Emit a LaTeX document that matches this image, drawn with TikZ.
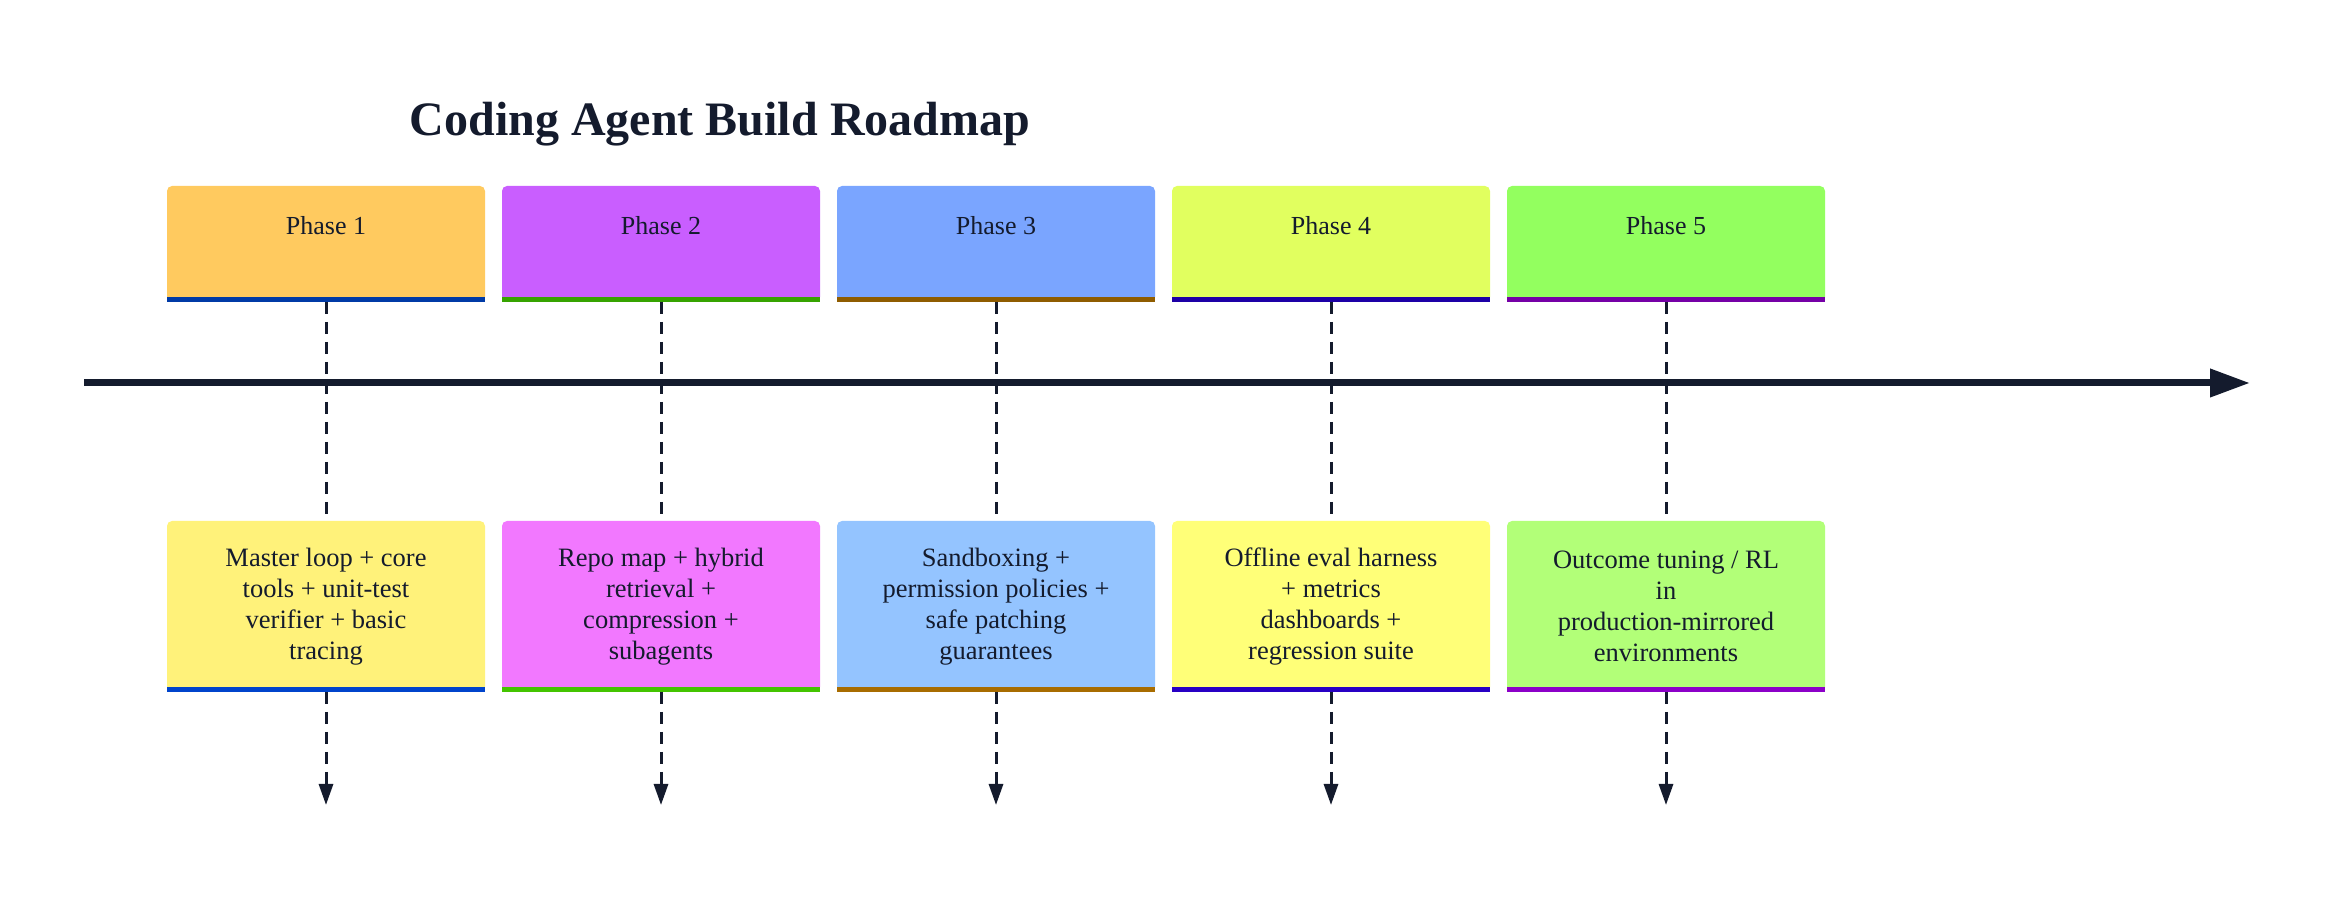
\documentclass[tikz,border=0pt]{standalone}
\usepackage{fontspec}
\setmainfont{Liberation Serif}
\usepackage{tikz}
\usetikzlibrary{arrows.meta, positioning}
\usepackage{xcolor}

\definecolor{ink}{HTML}{141B2D}
\definecolor{hdA}{HTML}{FFCA5F}
\definecolor{hdB}{HTML}{C95EFF}
\definecolor{hdC}{HTML}{7AA5FF}
\definecolor{hdD}{HTML}{E1FF5F}
\definecolor{hdE}{HTML}{93FF5F}
\definecolor{hbA}{HTML}{003AA6}
\definecolor{hbB}{HTML}{36A300}
\definecolor{hbC}{HTML}{8F5C00}
\definecolor{hbD}{HTML}{1D00A6}
\definecolor{hbE}{HTML}{7500A6}
\definecolor{tkA}{HTML}{FFF27A}
\definecolor{tkB}{HTML}{F278FF}
\definecolor{tkC}{HTML}{94C4FF}
\definecolor{tkD}{HTML}{FFFF78}
\definecolor{tkE}{HTML}{B2FF78}
\definecolor{tbA}{HTML}{0044CC}
\definecolor{tbB}{HTML}{44C400}
\definecolor{tbC}{HTML}{A86C00}
\definecolor{tbD}{HTML}{2800C4}
\definecolor{tbE}{HTML}{8C00C8}

\begin{document}
\begin{tikzpicture}[x=0.5pt, y=-0.5pt, >=Stealth, node distance=8.5pt,
          every node/.style={text=ink, align=center, outer sep=0pt},
          phasebox/.style={rounded corners=2.5pt, minimum width=159pt,
                      minimum height=58pt, inner sep=0pt,
                      text height=9pt, text depth=18pt,
                      font=\fontsize{13pt}{14.5pt}\selectfont},
          taskbox/.style={rounded corners=2.5pt, minimum width=159pt,
                      minimum height=85.5pt, inner sep=0pt,
                      font=\fontsize{13.25pt}{15.4pt}\selectfont},
          bar/.style={line width=2.5pt},
          dashline/.style={draw=ink, line width=1.5pt, dash pattern=on 6pt off 4pt},
          dasharrow/.style={dashline, -{Triangle[length=10.5pt, width=7pt]}},
          axis/.style={draw=ink, line width=3.5pt, -{Triangle[length=20pt, width=13.5pt]}}]
        \useasboundingbox (0,0) rectangle (2352,897);
        \node[font=\fontsize{24pt}{28pt}\selectfont\bfseries] (ttl) at (720,124) {Coding Agent Build Roadmap};
        \node[phasebox, fill=hdA]                 (ph1) at (326,244) {Phase 1};
        \node[phasebox, fill=hdB, right=of ph1]   (ph2) {Phase 2};
        \node[phasebox, fill=hdC, right=of ph2]   (ph3) {Phase 3};
        \node[phasebox, fill=hdD, right=of ph3]   (ph4) {Phase 4};
        \node[phasebox, fill=hdE, right=of ph4]   (ph5) {Phase 5};
        \node[taskbox, fill=tkA, below=109.5pt of ph1] (tk1) {Master loop + core\\tools + unit-test\\verifier + basic\\tracing};
        \node[taskbox, fill=tkB, below=109.5pt of ph2] (tk2) {Repo map + hybrid\\retrieval +\\compression +\\subagents};
        \node[taskbox, fill=tkC, below=109.5pt of ph3] (tk3) {Sandboxing +\\permission policies +\\safe patching\\guarantees};
        \node[taskbox, fill=tkD, below=109.5pt of ph4] (tk4) {Offline eval harness\\+ metrics\\dashboards +\\regression suite};
        \node[taskbox, fill=tkE, below=109.5pt of ph5] (tk5) {Outcome tuning / RL\\in\\production-mirrored\\environments};
        \draw[bar, hbA] ([yshift=1.25pt]ph1.south west) -- ([yshift=1.25pt]ph1.south east);
        \draw[bar, hbB] ([yshift=1.25pt]ph2.south west) -- ([yshift=1.25pt]ph2.south east);
        \draw[bar, hbC] ([yshift=1.25pt]ph3.south west) -- ([yshift=1.25pt]ph3.south east);
        \draw[bar, hbD] ([yshift=1.25pt]ph4.south west) -- ([yshift=1.25pt]ph4.south east);
        \draw[bar, hbE] ([yshift=1.25pt]ph5.south west) -- ([yshift=1.25pt]ph5.south east);
        \draw[bar, tbA] ([yshift=1.25pt]tk1.south west) -- ([yshift=1.25pt]tk1.south east);
        \draw[bar, tbB] ([yshift=1.25pt]tk2.south west) -- ([yshift=1.25pt]tk2.south east);
        \draw[bar, tbC] ([yshift=1.25pt]tk3.south west) -- ([yshift=1.25pt]tk3.south east);
        \draw[bar, tbD] ([yshift=1.25pt]tk4.south west) -- ([yshift=1.25pt]tk4.south east);
        \draw[bar, tbE] ([yshift=1.25pt]tk5.south west) -- ([yshift=1.25pt]tk5.south east);
        \coordinate[below=56.5pt of tk1] (end1);
        \coordinate[below=56.5pt of tk2] (end2);
        \coordinate[below=56.5pt of tk3] (end3);
        \coordinate[below=56.5pt of tk4] (end4);
        \coordinate[below=56.5pt of tk5] (end5);
        \draw[dashline] (ph1) -- (tk1);
        \draw[dashline] (ph2) -- (tk2);
        \draw[dashline] (ph3) -- (tk3);
        \draw[dashline] (ph4) -- (tk4);
        \draw[dashline] (ph5) -- (tk5);
        \draw[dasharrow] (tk1) -- (end1);
        \draw[dasharrow] (tk2) -- (end2);
        \draw[dasharrow] (tk3) -- (end3);
        \draw[dasharrow] (tk4) -- (end4);
        \draw[dasharrow] (tk5) -- (end5);
        \coordinate (ax0) at (84,383);
        \coordinate (ax1) at (2250,383);
        \draw[axis] (ax0) -- (ax1);
      \end{tikzpicture}
\end{document}
